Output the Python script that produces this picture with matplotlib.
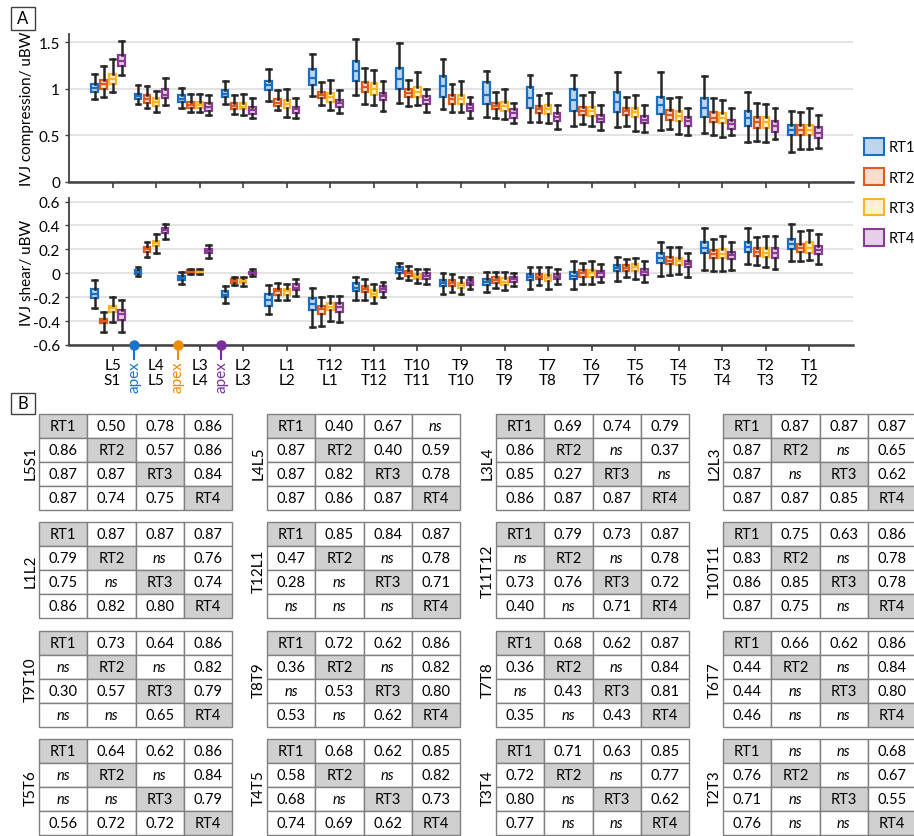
import matplotlib
matplotlib.use('Agg')
import matplotlib.pyplot as plt
from matplotlib.patches import Patch, Rectangle

plt.rcParams['font.family'] = ['Lato', 'DejaVu Sans']

# ==================== data
series = ['RT1', 'RT2', 'RT3', 'RT4']
upper = ['L5', 'L4', 'L3', 'L2', 'L1', 'T12', 'T11', 'T10', 'T9', 'T8', 'T7', 'T6', 'T5', 'T4', 'T3', 'T2', 'T1']
lower = ['S1', 'L5', 'L4', 'L3', 'L2', 'L1', 'T12', 'T11', 'T10', 'T9', 'T8', 'T7', 'T6', 'T5', 'T4', 'T3', 'T2']

# IVJ compression (rows = levels, cols = RT1..RT4)
comp_med = [[1.01, 1.05, 1.11, 1.30], [0.92, 0.89, 0.86, 0.94], [0.89, 0.83, 0.83, 0.81], [0.95, 0.82, 0.81, 0.77],
            [1.04, 0.85, 0.84, 0.78], [1.12, 0.93, 0.91, 0.85], [1.19, 1.02, 1.00, 0.92], [1.11, 0.96, 0.97, 0.88],
            [1.03, 0.89, 0.89, 0.80], [0.94, 0.82, 0.82, 0.74], [0.90, 0.78, 0.78, 0.70], [0.88, 0.76, 0.76, 0.68],
            [0.86, 0.76, 0.75, 0.67], [0.83, 0.72, 0.71, 0.65], [0.80, 0.69, 0.69, 0.62], [0.69, 0.64, 0.64, 0.60],
            [0.56, 0.56, 0.56, 0.53]]
comp_q1 = [[0.97, 1.00, 1.05, 1.25], [0.89, 0.85, 0.82, 0.90], [0.86, 0.79, 0.79, 0.76], [0.91, 0.78, 0.78, 0.73],
           [0.99, 0.82, 0.79, 0.74], [1.04, 0.90, 0.86, 0.81], [1.09, 0.97, 0.94, 0.88], [1.00, 0.91, 0.91, 0.84],
           [0.91, 0.84, 0.84, 0.76], [0.84, 0.78, 0.76, 0.69], [0.79, 0.74, 0.73, 0.66], [0.76, 0.72, 0.71, 0.64],
           [0.75, 0.72, 0.70, 0.63], [0.73, 0.67, 0.66, 0.60], [0.70, 0.64, 0.63, 0.57], [0.60, 0.58, 0.58, 0.54],
           [0.50, 0.50, 0.50, 0.47]]
comp_q3 = [[1.05, 1.10, 1.16, 1.36], [0.95, 0.93, 0.90, 1.00], [0.93, 0.86, 0.86, 0.85], [0.99, 0.85, 0.85, 0.81],
           [1.09, 0.89, 0.88, 0.81], [1.21, 0.97, 0.96, 0.88], [1.30, 1.07, 1.06, 0.96], [1.23, 1.00, 1.02, 0.92],
           [1.14, 0.93, 0.93, 0.84], [1.07, 0.85, 0.86, 0.78], [1.02, 0.82, 0.83, 0.74], [1.00, 0.81, 0.81, 0.72],
           [0.97, 0.80, 0.80, 0.71], [0.91, 0.77, 0.76, 0.70], [0.90, 0.75, 0.74, 0.67], [0.76, 0.70, 0.70, 0.66],
           [0.61, 0.61, 0.61, 0.59]]
comp_lo = [[0.89, 0.91, 0.97, 1.15], [0.84, 0.79, 0.75, 0.83], [0.79, 0.75, 0.75, 0.72], [0.84, 0.73, 0.72, 0.69],
           [0.87, 0.77, 0.70, 0.69], [0.92, 0.83, 0.77, 0.74], [0.94, 0.84, 0.83, 0.76], [0.85, 0.82, 0.83, 0.75],
           [0.78, 0.75, 0.75, 0.69], [0.70, 0.69, 0.68, 0.63], [0.64, 0.64, 0.63, 0.57], [0.60, 0.62, 0.60, 0.56],
           [0.59, 0.60, 0.55, 0.54], [0.56, 0.57, 0.52, 0.50], [0.53, 0.50, 0.48, 0.50], [0.43, 0.44, 0.43, 0.46],
           [0.32, 0.35, 0.35, 0.36]]
comp_hi = [[1.16, 1.25, 1.32, 1.51], [1.04, 1.03, 0.98, 1.12], [1.01, 0.95, 0.95, 0.94], [1.08, 0.94, 0.95, 0.90],
           [1.21, 0.99, 1.00, 0.90], [1.38, 1.07, 1.10, 0.99], [1.54, 1.22, 1.20, 1.09], [1.49, 1.10, 1.18, 1.00],
           [1.32, 1.05, 1.08, 0.91], [1.19, 0.97, 1.00, 0.85], [1.15, 0.94, 0.96, 0.83], [1.15, 0.94, 0.97, 0.83],
           [1.18, 0.91, 0.94, 0.83], [1.18, 0.90, 0.91, 0.80], [1.14, 0.90, 0.88, 0.80], [0.97, 0.85, 0.84, 0.79],
           [0.76, 0.75, 0.79, 0.72]]

# IVJ shear
shear_med = [[-0.17, -0.40, -0.29, -0.34], [0.01, 0.20, 0.25, 0.36], [-0.04, 0.015, 0.012, 0.19], [-0.18, -0.065, -0.067, 0.005],
             [-0.22, -0.15, -0.15, -0.12], [-0.26, -0.30, -0.28, -0.285], [-0.12, -0.13, -0.17, -0.135], [0.025, 0.0, -0.03, -0.025],
             [-0.085, -0.085, -0.10, -0.08], [-0.07, -0.055, -0.07, -0.05], [-0.035, -0.03, -0.04, -0.03], [-0.02, 0.0, 0.0, 0.0],
             [0.045, 0.045, 0.05, 0.01], [0.13, 0.105, 0.10, 0.075], [0.21, 0.16, 0.16, 0.15], [0.22, 0.175, 0.17, 0.17],
             [0.245, 0.21, 0.215, 0.195]]
shear_q1 = [[-0.21, -0.42, -0.32, -0.39], [-0.005, 0.18, 0.23, 0.34], [-0.06, 0.005, 0.005, 0.17], [-0.20, -0.08, -0.085, -0.01],
            [-0.27, -0.18, -0.18, -0.14], [-0.31, -0.34, -0.31, -0.32], [-0.15, -0.16, -0.20, -0.16], [0.0, -0.02, -0.05, -0.05],
            [-0.11, -0.11, -0.12, -0.10], [-0.10, -0.08, -0.10, -0.07], [-0.06, -0.05, -0.065, -0.05], [-0.05, -0.03, -0.035, -0.03],
            [0.02, 0.02, 0.02, -0.015], [0.09, 0.075, 0.07, 0.05], [0.17, 0.125, 0.125, 0.12], [0.18, 0.145, 0.135, 0.125],
            [0.20, 0.175, 0.17, 0.16]]
shear_q3 = [[-0.13, -0.38, -0.27, -0.31], [0.03, 0.22, 0.27, 0.38], [-0.02, 0.03, 0.02, 0.20], [-0.15, -0.05, -0.05, 0.015],
            [-0.17, -0.13, -0.13, -0.09], [-0.21, -0.27, -0.25, -0.25], [-0.085, -0.105, -0.14, -0.11], [0.05, 0.02, -0.01, 0.0],
            [-0.055, -0.06, -0.08, -0.06], [-0.05, -0.035, -0.04, -0.035], [-0.01, -0.005, -0.015, -0.01], [0.015, 0.03, 0.03, 0.02],
            [0.07, 0.07, 0.075, 0.035], [0.17, 0.135, 0.13, 0.10], [0.26, 0.195, 0.20, 0.18], [0.26, 0.21, 0.21, 0.215],
            [0.29, 0.245, 0.26, 0.23]]
shear_lo = [[-0.29, -0.49, -0.41, -0.49], [-0.02, 0.14, 0.17, 0.29], [-0.09, -0.005, -0.01, 0.13], [-0.25, -0.10, -0.11, -0.02],
            [-0.34, -0.22, -0.22, -0.19], [-0.45, -0.44, -0.40, -0.41], [-0.22, -0.22, -0.25, -0.20], [-0.04, -0.06, -0.085, -0.09],
            [-0.17, -0.16, -0.17, -0.13], [-0.16, -0.12, -0.14, -0.11], [-0.13, -0.10, -0.135, -0.09], [-0.13, -0.09, -0.09, -0.075],
            [-0.065, -0.035, -0.05, -0.07], [-0.02, -0.015, -0.005, -0.03], [0.03, 0.02, 0.02, 0.03], [0.08, 0.07, 0.05, 0.035],
            [0.105, 0.105, 0.11, 0.08]]
shear_hi = [[-0.06, -0.32, -0.20, -0.22], [0.05, 0.26, 0.33, 0.41], [0.01, 0.04, 0.04, 0.24], [-0.11, -0.035, -0.03, 0.035],
            [-0.10, -0.08, -0.09, -0.05], [-0.12, -0.20, -0.19, -0.19], [-0.03, -0.045, -0.09, -0.07], [0.09, 0.06, 0.035, 0.04],
            [0.0, -0.01, -0.035, -0.03], [0.015, 0.015, 0.015, 0.005], [0.05, 0.05, 0.055, 0.035], [0.10, 0.09, 0.105, 0.075],
            [0.14, 0.12, 0.13, 0.105], [0.265, 0.22, 0.22, 0.17], [0.38, 0.29, 0.31, 0.265], [0.38, 0.30, 0.31, 0.315],
            [0.41, 0.35, 0.36, 0.33]]

# apex markers between levels
apex_pos = [0.5, 1.5, 2.5]
apex_colors = ['#1a73c8', '#f28c00', '#7b2d9b']

# correlation tables (diagonal is filled with the series name)
table_names = ['L5S1', 'L4L5', 'L3L4', 'L2L3', 'L1L2', 'T12L1', 'T11T12', 'T10T11',
               'T9T10', 'T8T9', 'T7T8', 'T6T7', 'T5T6', 'T4T5', 'T3T4', 'T2T3']
table_values = [
    [['', '0.50', '0.78', '0.86'], ['0.86', '', '0.57', '0.86'], ['0.87', '0.87', '', '0.84'], ['0.87', '0.74', '0.75', '']],
    [['', '0.40', '0.67', 'ns'], ['0.87', '', '0.40', '0.59'], ['0.87', '0.82', '', '0.78'], ['0.87', '0.86', '0.87', '']],
    [['', '0.69', '0.74', '0.79'], ['0.86', '', 'ns', '0.37'], ['0.85', '0.27', '', 'ns'], ['0.86', '0.87', '0.87', '']],
    [['', '0.87', '0.87', '0.87'], ['0.87', '', 'ns', '0.65'], ['0.87', 'ns', '', '0.62'], ['0.87', '0.87', '0.85', '']],
    [['', '0.87', '0.87', '0.87'], ['0.79', '', 'ns', '0.76'], ['0.75', 'ns', '', '0.74'], ['0.86', '0.82', '0.80', '']],
    [['', '0.85', '0.84', '0.87'], ['0.47', '', 'ns', '0.78'], ['0.28', 'ns', '', '0.71'], ['ns', 'ns', 'ns', '']],
    [['', '0.79', '0.73', '0.87'], ['ns', '', 'ns', '0.78'], ['0.73', '0.76', '', '0.72'], ['0.40', 'ns', '0.71', '']],
    [['', '0.75', '0.63', '0.86'], ['0.83', '', 'ns', '0.78'], ['0.86', '0.85', '', '0.78'], ['0.87', '0.75', 'ns', '']],
    [['', '0.73', '0.64', '0.86'], ['ns', '', 'ns', '0.82'], ['0.30', '0.57', '', '0.79'], ['ns', 'ns', '0.65', '']],
    [['', '0.72', '0.62', '0.86'], ['0.36', '', 'ns', '0.82'], ['ns', '0.53', '', '0.80'], ['0.53', 'ns', '0.62', '']],
    [['', '0.68', '0.62', '0.87'], ['0.36', '', 'ns', '0.84'], ['ns', '0.43', '', '0.81'], ['0.35', 'ns', '0.43', '']],
    [['', '0.66', '0.62', '0.86'], ['0.44', '', 'ns', '0.84'], ['0.44', 'ns', '', '0.80'], ['0.46', 'ns', 'ns', '']],
    [['', '0.64', '0.62', '0.86'], ['ns', '', 'ns', '0.84'], ['ns', 'ns', '', '0.79'], ['0.56', '0.72', '0.72', '']],
    [['', '0.68', '0.62', '0.85'], ['0.58', '', 'ns', '0.82'], ['0.68', 'ns', '', '0.73'], ['0.74', '0.69', '0.62', '']],
    [['', '0.71', '0.63', '0.85'], ['0.72', '', 'ns', '0.77'], ['0.80', 'ns', '', '0.62'], ['0.77', 'ns', 'ns', '']],
    [['', 'ns', 'ns', '0.68'], ['0.76', '', 'ns', '0.67'], ['0.71', 'ns', '', '0.55'], ['0.76', 'ns', 'ns', '']],
]

# ==================== styles
edge_colors = ['#1a6ec4', '#e05a1c', '#fbb526', '#8b3a96']
face_colors = ['#bcd6ee', '#fcdccd', '#fff0d4', '#e4d1e7']
offsets = [-0.414, -0.207, 0.0, 0.207]
W, H = 914, 837


def fx(x):
    return x / W


def fy(y):
    return 1 - y / H


fig = plt.figure(figsize=(W / 100, H / 100), dpi=100)
fig.set_facecolor('white')

ax1 = fig.add_axes([fx(69), fy(183), fx(853 - 69), (183 - 35) / H])
ax2 = fig.add_axes([fx(69), fy(346), fx(853 - 69), (346 - 199) / H])

n = len(upper)
centers = list(range(n))


def draw_boxes(ax, med, q1, q3, lo, hi):
    for s in range(4):
        stats = []
        for g in range(n):
            stats.append({'med': med[g][s], 'q1': q1[g][s], 'q3': q3[g][s],
                          'whislo': lo[g][s], 'whishi': hi[g][s], 'fliers': []})
        ax.bxp(stats, positions=[c + offsets[s] for c in centers], widths=0.15,
               patch_artist=True, showfliers=False, manage_ticks=False, capwidths=0.11,
               boxprops=dict(facecolor=face_colors[s], edgecolor=edge_colors[s], linewidth=1.6),
               medianprops=dict(color=edge_colors[s], linewidth=1.6),
               whiskerprops=dict(color='#262626', linewidth=1.8),
               capprops=dict(color='#262626', linewidth=1.8))


for ax in (ax1, ax2):
    ax.set_xlim(-1.0, 17.0)
    ax.spines['top'].set_visible(False)
    ax.spines['right'].set_visible(False)
    ax.spines['left'].set_color('#404040')
    ax.spines['bottom'].set_color('#404040')
    ax.spines['left'].set_linewidth(1.3)
    ax.spines['bottom'].set_linewidth(1.8)
    ax.grid(axis='y', color='#dedede', linewidth=1.2)
    ax.set_axisbelow(True)
    ax.tick_params(axis='y', length=3, width=1, colors='#404040', labelcolor='black', labelsize=11)
    ax.tick_params(axis='x', length=4, width=1.2, colors='#404040', labelcolor='black', labelsize=11)
    ax.set_xticks(centers)

# top panel
draw_boxes(ax1, comp_med, comp_q1, comp_q3, comp_lo, comp_hi)
ax1.set_ylim(0, 1.59)
ax1.set_yticks([0, 0.5, 1, 1.5])
ax1.set_yticklabels(['0', '0.5', '1', '1.5'])
ax1.set_xticklabels([])
ax1.set_ylabel('IVJ compression/ uBW', fontsize=11, labelpad=3)

# bottom panel
draw_boxes(ax2, shear_med, shear_q1, shear_q3, shear_lo, shear_hi)
ax2.set_ylim(-0.6, 0.63)
ax2.set_yticks([-0.6, -0.4, -0.2, 0, 0.2, 0.4, 0.6])
ax2.set_yticklabels(['-0.6', '-0.4', '-0.2', '0', '0.2', '0.4', '0.6'])
ax2.set_xticklabels([u + '\n' + l for u, l in zip(upper, lower)], linespacing=1.15)
ax2.tick_params(axis='x', pad=5)
ax2.set_ylabel('IVJ shear/ uBW', fontsize=11, labelpad=-1)

# apex markers
for x, c in zip(apex_pos, apex_colors):
    ax2.plot([x, x], [-0.6, -0.6 - 0.115], color=c, linewidth=1.5, clip_on=False, zorder=5)
    ax2.plot([x], [-0.6], marker='o', markersize=6.5, color=c, clip_on=False, zorder=6)
    ax2.text(x, -0.6 - 0.13, 'apex', color=c, rotation=90, ha='center', va='top', fontsize=11)

# legend
handles = [Patch(facecolor=face_colors[i], edgecolor=edge_colors[i], linewidth=1.5, label=series[i])
           for i in range(4)]
fig.legend(handles=handles, loc='upper left', bbox_to_anchor=(fx(864), fy(139)), frameon=False,
           fontsize=10.5, handlelength=1.4, handleheight=1.4, labelspacing=0.92, handletextpad=0.3,
           borderpad=0, borderaxespad=0)

# panel labels
for label, x0, y0, w, h in [('A', 11, 8, 24, 23), ('B', 11, 394, 24, 21)]:
    fig.add_artist(Rectangle((fx(x0), fy(y0 + h)), w / W, h / H, transform=fig.transFigure,
                             facecolor='white', edgecolor='#404040', linewidth=1))
    fig.text(fx(x0 + w / 2), fy(y0 + h / 2), label, ha='center', va='center', fontsize=12)

# ==================== tables
col_left = [39, 267, 496, 723]
row_top = [415, 523, 632, 740]
tw, th = 193, 96
for k, name in enumerate(table_names):
    left = col_left[k % 4]
    top = row_top[k // 4]
    tax = fig.add_axes([fx(left), fy(top + th), tw / W, th / H])
    tax.axis('off')
    cells = [[series[r] if r == c else table_values[k][r][c] for c in range(4)] for r in range(4)]
    colours = [['#d0d0d0' if r == c else 'white' for c in range(4)] for r in range(4)]
    tb = tax.table(cellText=cells, cellColours=colours, cellLoc='center', bbox=[0, 0, 1, 1])
    tb.auto_set_font_size(False)
    tb.set_fontsize(10.5)
    for (r, c), cell in tb.get_celld().items():
        cell.set_edgecolor('#808080')
        cell.set_linewidth(1)
        if cell.get_text().get_text() == 'ns':
            cell.get_text().set_fontstyle('italic')
    fig.text(fx(left - 8.5), fy(top + th / 2), name, rotation=90, ha='center', va='center', fontsize=11)

plt.savefig('out.png', dpi=100)
